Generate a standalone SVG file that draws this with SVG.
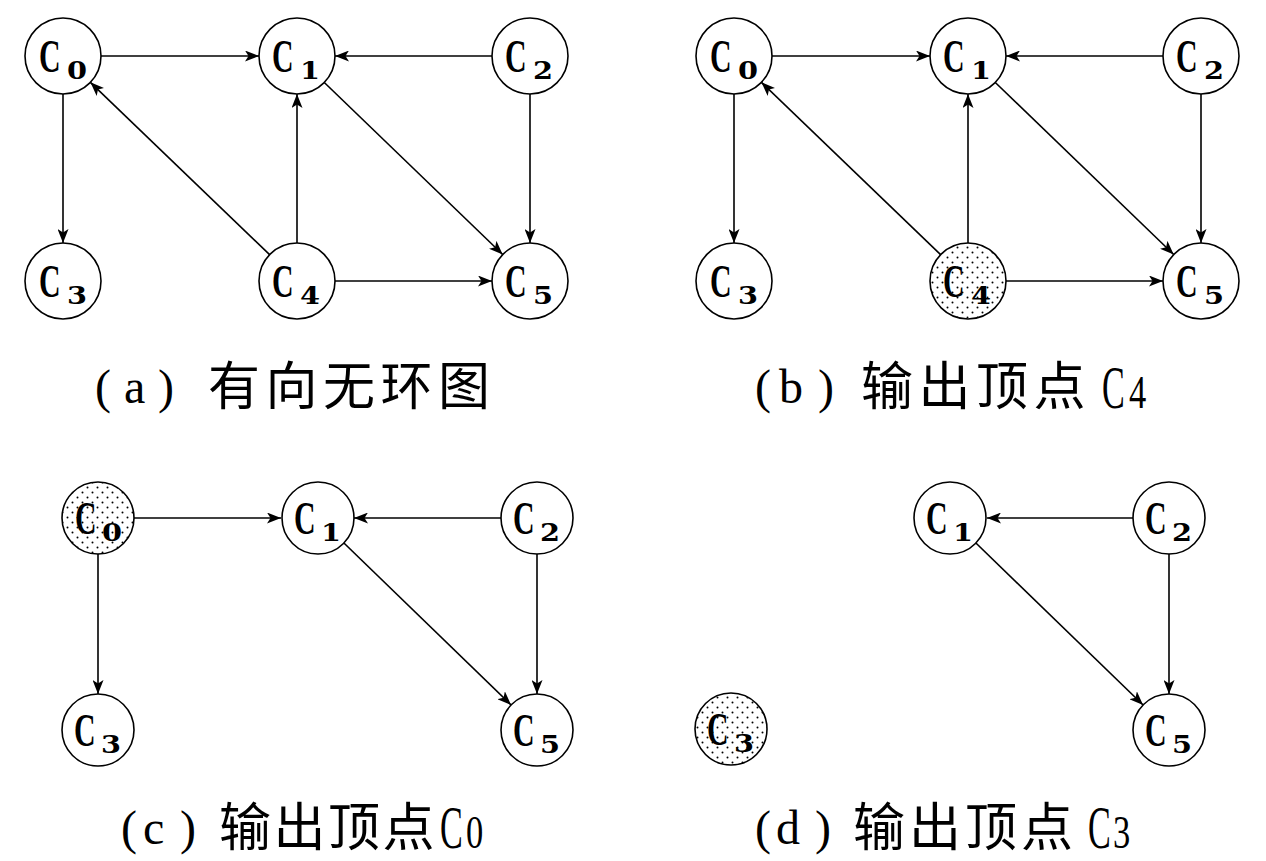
<svg xmlns="http://www.w3.org/2000/svg" width="1266" height="861" viewBox="0 0 1266 861">
<style>
.n{fill:#fff;stroke:#000;stroke-width:1.6}
.dot{fill:url(#dots);stroke:#000;stroke-width:1.6}
.nc{font-family:"Liberation Serif",serif;font-weight:bold;font-size:46px;fill:#000}
.nd{font-family:"DejaVu Serif",serif;font-weight:bold;font-size:25px;fill:#000}
.e{stroke:#000;stroke-width:1.6;fill:none;marker-end:url(#arr)}
.lp{font-family:"Liberation Serif",serif;font-size:48px;fill:#000}
.lz{font-family:"Noto Sans CJK SC",sans-serif;font-size:52px;fill:#000;letter-spacing:5.5px}
.lc{font-family:"Liberation Serif",serif;font-size:62px;fill:#000}
.ld{font-family:"Liberation Serif",serif;font-size:46px;fill:#000}
</style>
<defs>
<pattern id="dots" width="10" height="10" patternUnits="userSpaceOnUse">
<rect width="10" height="10" fill="#fff"/>
<circle cx="2.5" cy="2.5" r="1" fill="#000"/>
<circle cx="7.5" cy="7.5" r="1" fill="#000"/>
</pattern>
<marker id="arr" markerWidth="15" markerHeight="11" refX="14" refY="5.5" orient="auto" markerUnits="userSpaceOnUse">
<path d="M0,0 L14,5.5 L0,11 L3.5,5.5 z" fill="#000"/>
</marker>
</defs>
<rect width="1266" height="861" fill="#fff"/>

<g id="connectors">
<!-- (a) -->
<line class="e" x1="101" y1="56" x2="259" y2="56"/>
<line class="e" x1="492" y1="56" x2="335" y2="56"/>
<line class="e" x1="63" y1="94" x2="63" y2="243"/>
<line class="e" x1="269.6" y1="254.7" x2="90.4" y2="82.3"/>
<line class="e" x1="297" y1="243" x2="297" y2="94"/>
<line class="e" x1="324.3" y1="82.5" x2="502.7" y2="254.5"/>
<line class="e" x1="530" y1="94" x2="530" y2="243"/>
<line class="e" x1="335" y1="281" x2="492" y2="281"/>
<!-- (b) -->
<line class="e" x1="772" y1="56" x2="930" y2="56"/>
<line class="e" x1="1163" y1="56" x2="1006" y2="56"/>
<line class="e" x1="734" y1="94" x2="734" y2="243"/>
<line class="e" x1="940.6" y1="254.7" x2="761.4" y2="82.3"/>
<line class="e" x1="968" y1="243" x2="968" y2="94"/>
<line class="e" x1="995.3" y1="82.5" x2="1173.7" y2="254.5"/>
<line class="e" x1="1201" y1="94" x2="1201" y2="243"/>
<line class="e" x1="1006" y1="281" x2="1163" y2="281"/>
<!-- (c) -->
<line class="e" x1="134" y1="518" x2="281" y2="518"/>
<line class="e" x1="501" y1="518" x2="354" y2="518"/>
<line class="e" x1="98" y1="554" x2="98" y2="694"/>
<line class="e" x1="343.9" y1="543" x2="511.1" y2="705"/>
<line class="e" x1="537" y1="554" x2="537" y2="694"/>
<!-- (d) -->
<line class="e" x1="1133" y1="518" x2="987" y2="518"/>
<line class="e" x1="975.9" y1="543" x2="1143.1" y2="705"/>
<line class="e" x1="1169" y1="554" x2="1169" y2="694"/>
</g>

<!-- (a) nodes -->
<g id="a-c0"><circle class="n" cx="63" cy="56" r="38"/><text class="nc" transform="translate(39,72) scale(0.65,1)">C</text><text class="nd" transform="translate(67,79) scale(1.15,1)">0</text></g>
<g id="a-c1"><circle class="n" cx="297" cy="56" r="38"/><text class="nc" transform="translate(272,72) scale(0.65,1)">C</text><text class="nd" transform="translate(300,79) scale(1.15,1)">1</text></g>
<g id="a-c2"><circle class="n" cx="530" cy="56" r="38"/><text class="nc" transform="translate(505,72) scale(0.65,1)">C</text><text class="nd" transform="translate(533,79) scale(1.15,1)">2</text></g>
<g id="a-c3"><circle class="n" cx="63" cy="281" r="38"/><text class="nc" transform="translate(39,297) scale(0.65,1)">C</text><text class="nd" transform="translate(67,304) scale(1.15,1)">3</text></g>
<g id="a-c4"><circle class="n" cx="297" cy="281" r="38"/><text class="nc" transform="translate(272,297) scale(0.65,1)">C</text><text class="nd" transform="translate(300,304) scale(1.15,1)">4</text></g>
<g id="a-c5"><circle class="n" cx="530" cy="281" r="38"/><text class="nc" transform="translate(505,297) scale(0.65,1)">C</text><text class="nd" transform="translate(533,304) scale(1.15,1)">5</text></g>

<!-- (b) nodes -->
<g id="b-c0"><circle class="n" cx="734" cy="56" r="38"/><text class="nc" transform="translate(710,72) scale(0.65,1)">C</text><text class="nd" transform="translate(738,79) scale(1.15,1)">0</text></g>
<g id="b-c1"><circle class="n" cx="968" cy="56" r="38"/><text class="nc" transform="translate(943,72) scale(0.65,1)">C</text><text class="nd" transform="translate(971,79) scale(1.15,1)">1</text></g>
<g id="b-c2"><circle class="n" cx="1201" cy="56" r="38"/><text class="nc" transform="translate(1176,72) scale(0.65,1)">C</text><text class="nd" transform="translate(1204,79) scale(1.15,1)">2</text></g>
<g id="b-c3"><circle class="n" cx="734" cy="281" r="38"/><text class="nc" transform="translate(710,297) scale(0.65,1)">C</text><text class="nd" transform="translate(738,304) scale(1.15,1)">3</text></g>
<g id="b-c4"><circle class="dot" cx="968" cy="281" r="38"/><text class="nc" transform="translate(943,297) scale(0.65,1)">C</text><text class="nd" transform="translate(971,304) scale(1.15,1)">4</text></g>
<g id="b-c5"><circle class="n" cx="1201" cy="281" r="38"/><text class="nc" transform="translate(1176,297) scale(0.65,1)">C</text><text class="nd" transform="translate(1204,304) scale(1.15,1)">5</text></g>

<!-- (c) nodes -->
<g id="c-c0"><circle class="dot" cx="98" cy="518" r="36"/><text class="nc" transform="translate(75,534) scale(0.65,1)">C</text><text class="nd" transform="translate(102,541) scale(1.15,1)">0</text></g>
<g id="c-c1"><circle class="n" cx="318" cy="518" r="36"/><text class="nc" transform="translate(294,534) scale(0.65,1)">C</text><text class="nd" transform="translate(321,541) scale(1.15,1)">1</text></g>
<g id="c-c2"><circle class="n" cx="537" cy="518" r="36"/><text class="nc" transform="translate(513,534) scale(0.65,1)">C</text><text class="nd" transform="translate(540,541) scale(1.15,1)">2</text></g>
<g id="c-c3"><circle class="n" cx="98" cy="730" r="36"/><text class="nc" transform="translate(74,746) scale(0.65,1)">C</text><text class="nd" transform="translate(101,753) scale(1.15,1)">3</text></g>
<g id="c-c5"><circle class="n" cx="537" cy="730" r="36"/><text class="nc" transform="translate(513,746) scale(0.65,1)">C</text><text class="nd" transform="translate(540,753) scale(1.15,1)">5</text></g>

<!-- (d) nodes -->
<g id="d-c1"><circle class="n" cx="950" cy="518" r="36"/><text class="nc" transform="translate(926,534) scale(0.65,1)">C</text><text class="nd" transform="translate(953,541) scale(1.15,1)">1</text></g>
<g id="d-c2"><circle class="n" cx="1169" cy="518" r="36"/><text class="nc" transform="translate(1145,534) scale(0.65,1)">C</text><text class="nd" transform="translate(1172,541) scale(1.15,1)">2</text></g>
<g id="d-c3"><circle class="dot" cx="731" cy="729" r="36"/><text class="nc" transform="translate(707,745) scale(0.65,1)">C</text><text class="nd" transform="translate(734,752) scale(1.15,1)">3</text></g>
<g id="d-c5"><circle class="n" cx="1169" cy="730" r="36"/><text class="nc" transform="translate(1145,746) scale(0.65,1)">C</text><text class="nd" transform="translate(1172,753) scale(1.15,1)">5</text></g>

<!-- captions -->
<g id="cap-a">
<text class="lp" x="95" y="403">(</text><text class="lp" x="124" y="403">a</text><text class="lp" x="158" y="403">)</text>
<text class="lz" x="208" y="405">有向无环图</text>
</g>
<g id="cap-b">
<text class="lp" x="755" y="403">(</text><text class="lp" x="779" y="403">b</text><text class="lp" x="818" y="403">)</text>
<text class="lz" x="861" y="405">输出顶点</text>
<text class="lc" transform="translate(1102,408) scale(0.55,1)">C</text><text class="ld" transform="translate(1129,408) scale(0.75,1)">4</text>
</g>
<g id="cap-c">
<text class="lp" x="121" y="844">(</text><text class="lp" x="143" y="844">c</text><text class="lp" x="180" y="844">)</text>
<text class="lz" x="219" y="846" style="letter-spacing:2.5px">输出顶点</text>
<text class="lc" transform="translate(440,848) scale(0.55,1)">C</text><text class="ld" transform="translate(466,848) scale(0.75,1)">0</text>
</g>
<g id="cap-d">
<text class="lp" x="755" y="844">(</text><text class="lp" x="776" y="844">d</text><text class="lp" x="815" y="844">)</text>
<text class="lz" x="853" y="846" style="letter-spacing:4px">输出顶点</text>
<text class="lc" transform="translate(1088,848) scale(0.55,1)">C</text><text class="ld" transform="translate(1113,848) scale(0.75,1)">3</text>
</g>
</svg>
